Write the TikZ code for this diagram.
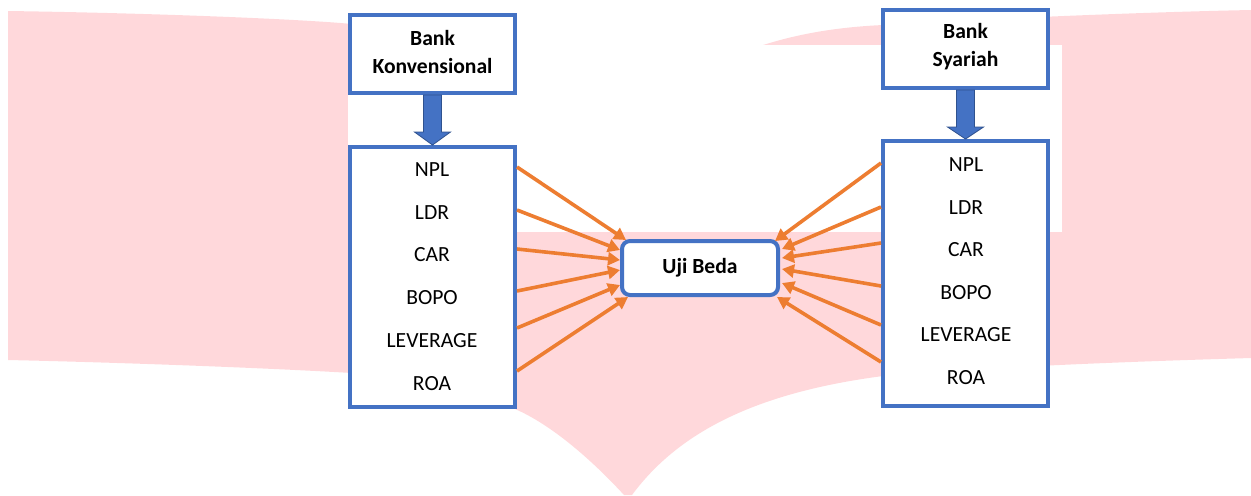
\documentclass[tikz,border=0pt]{standalone}
\usepackage{fontspec}
\setmainfont{Carlito}
\usetikzlibrary{arrows.meta,calc}
\definecolor{bblue}{HTML}{4472C4}
\definecolor{bdark}{HTML}{2F528F}
\definecolor{orng}{HTML}{ED7D31}
\definecolor{pinkbg}{RGB}{255,216,219}
\begin{document}
\begin{tikzpicture}[x=0.5pt,y=-0.5pt,
  box/.style={draw=bblue,line width=2pt,fill=white,inner sep=0pt,minimum width=82.5pt},
  item/.style={font=\fontsize{10.8}{13}\selectfont,inner sep=0pt},
  head/.style={font=\fontsize{10.8}{14}\selectfont\bfseries,align=center},
  link/.style={draw=orng,line width=1.8pt,-{Triangle[length=6pt,width=6.5pt]}},
  bigarrow/.style={fill=bblue,draw=bdark,line width=0.4pt}]
\useasboundingbox (0,0) rectangle (1251,495);
% background watermark
\fill[pinkbg] (8,11) .. controls (150,13) and (300,19) .. (352,24) -- (512,30) -- (512,60)
  -- (760,60) -- (760,46) .. controls (800,33) and (840,27) .. (883,25)
  .. controls (1000,18) and (1150,12) .. (1251,10) -- (1251,358)
  .. controls (1150,361) and (1000,366) .. (883,376)
  .. controls (760,392) and (680,430) .. (632,495) -- (624,495)
  .. controls (590,458) and (550,424) .. (515,409) -- (352,373)
  .. controls (250,367) and (100,362) .. (8,360) -- cycle;
\fill[white] (348,45) rectangle (1062,232);
% left column
\node[box,minimum height=39pt] (ltop) at (432.5,54) {};
\node[head] (ltopt) at (432.5,52) {Bank\\Konvensional};
\node[box,minimum height=130pt] (llist) at (432.5,277) {};
\node[item] (l1) at (432,170) {NPL};
\node[item] (l2) at (432,213) {LDR};
\node[item] (l3) at (432,255) {CAR};
\node[item] (l4) at (432,298) {BOPO};
\node[item] (l5) at (432,341) {LEVERAGE};
\node[item] (l6) at (432,384) {ROA};
% right column
\node[box,minimum height=39pt] (rtop) at (965.5,49) {};
\node[head] (rtopt) at (965.5,47) {Bank\\Syariah};
\node[box,minimum height=132.5pt] (rlist) at (965.5,273.5) {};
\node[item] (r1) at (966,165) {NPL};
\node[item] (r2) at (966,208) {LDR};
\node[item] (r3) at (966,250) {CAR};
\node[item] (r4) at (966,293) {BOPO};
\node[item] (r5) at (966,335) {LEVERAGE};
\node[item] (r6) at (966,378) {ROA};
% centre
\node[box,head,rounded corners=4pt,minimum width=78pt,minimum height=27pt] (uji) at (700,268) {Uji Beda};
% block arrows
\filldraw[bigarrow] ($(ltop.south)+(-9,0)$) -- ($(ltop.south)+(9,0)$) -- ($(ltop.south)+(9,37)$)
  -- ($(ltop.south)+(18,37)$) -- (llist.north) -- ($(ltop.south)+(-18,37)$) -- ($(ltop.south)+(-9,37)$) -- cycle;
\filldraw[bigarrow] ($(rtop.south)+(-9,0)$) -- ($(rtop.south)+(9,0)$) -- ($(rtop.south)+(9,37)$)
  -- ($(rtop.south)+(18,37)$) -- (rlist.north) -- ($(rtop.south)+(-18,37)$) -- ($(rtop.south)+(-9,37)$) -- cycle;
% left connectors
\draw[link] ([yshift=55pt]llist.east) -- ([xshift=3pt,yshift=14pt]uji.west);
\draw[link] ([yshift=33.5pt]llist.east) -- ([yshift=9pt]uji.west);
\draw[link] ([yshift=14pt]llist.east) -- ([yshift=4pt]uji.west);
\draw[link] ([yshift=-7pt]llist.east) -- ([yshift=-1pt]uji.west);
\draw[link] ([yshift=-25.5pt]llist.east) -- ([yshift=-8.5pt]uji.west);
\draw[link] ([yshift=-47pt]llist.east) -- ([xshift=4pt,yshift=-14.5pt]uji.west);
% right connectors
\draw[link] ([yshift=55.25pt]rlist.west) -- ([xshift=-2.5pt,yshift=13.5pt]uji.east);
\draw[link] ([yshift=33.25pt]rlist.west) -- ([xshift=1pt,yshift=9.5pt]uji.east);
\draw[link] ([yshift=15.25pt]rlist.west) -- ([xshift=1pt,yshift=5pt]uji.east);
\draw[link] ([yshift=-6.25pt]rlist.west) -- ([xshift=1pt,yshift=-0.5pt]uji.east);
\draw[link] ([yshift=-25.75pt]rlist.west) -- ([xshift=1pt,yshift=-7.5pt]uji.east);
\draw[link] ([yshift=-44.25pt]rlist.west) -- ([xshift=-1.5pt,yshift=-14.5pt]uji.east);
\end{tikzpicture}
\end{document}
